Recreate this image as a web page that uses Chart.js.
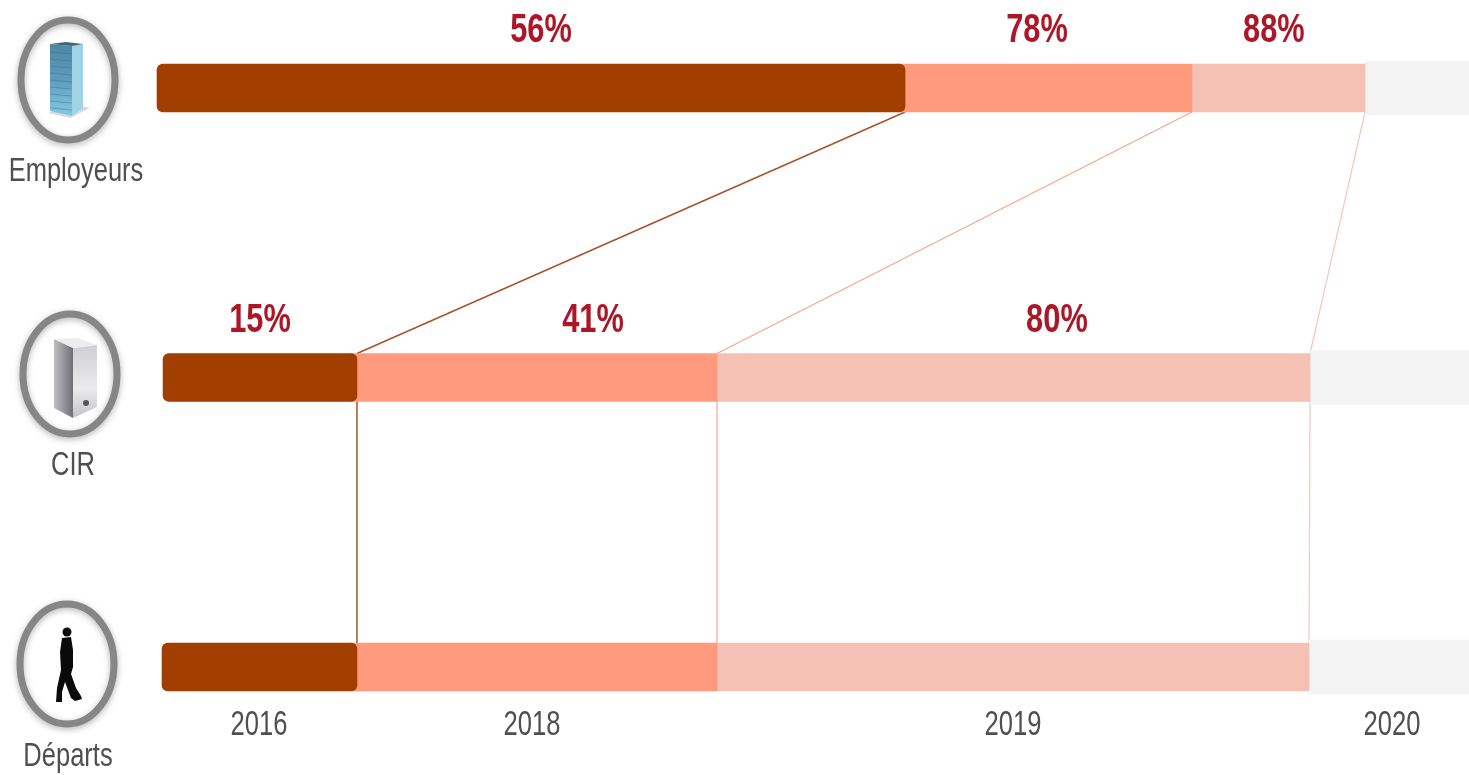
<!DOCTYPE html>
<html>
<head>
<meta charset="utf-8">
<title>Employeurs CIR Départs</title>
<script src="https://cdn.jsdelivr.net/npm/chart.js@4"></script>
<style>
html, body { margin: 0; padding: 0; background: #fff; overflow: hidden; }
#wrap { width: 1469px; height: 775px; }
</style>
</head>
<body>
<div id="wrap"><canvas id="chart"></canvas></div>
<script>
var categories = ['Employeurs', 'CIR', 'Départs'];
var years = ['2016', '2018', '2019', '2020'];
var yearTicks = [17.63, 36.21, 68.96, 94.76];

// lengths of each stretch, in % of the picture width
var lead = [10.69, 11.10, 11.03];
var stage1 = [50.92, 13.20, 13.27];
var stage2 = [19.53, 24.51, 24.51];
var stage3 = [11.78, 40.37, 40.30];
var rest = [7.08, 10.82, 10.89];

var pctEmployeurs = ['56%', '78%', '88%'];
var pctCir = ['15%', '41%', '80%'];

var family = '"Liberation Sans", Arial, sans-serif';
var colDark = '#a23e00', colMid = '#ff9a7c', colLight = '#f6c1b5', colRest = '#f3f3f3';
var overlap = 0.5; // the stretch after the dark one slides under it, so its rounded corners do not show white

// where the percent labels sit along the axis, x in % of width, y in px
var pctPlaces = [
    { row: pctEmployeurs, xs: [36.83, 70.59, 86.72], y: 31 },
    { row: pctCir, xs: [17.70, 40.37, 71.95], y: 321 }
];

var rings = [
    { cx: 68, cy: 80, lx: 76, ly: 172 },
    { cx: 70, cy: 374, lx: 73, ly: 466 },
    { cx: 67, cy: 664, lx: 68, ly: 757 }
];

// the picture uses a condensed face, none is installed so squeeze Liberation Sans
function squeezed(ctx, txt, x, y, font, sx) {
    ctx.save();
    ctx.translate(x, y);
    ctx.scale(sx, 1);
    ctx.font = font;
    ctx.textAlign = 'center';
    ctx.textBaseline = 'middle';
    ctx.fillText(txt, 0, 0);
    ctx.restore();
}

function poly(ctx, pts) {
    ctx.beginPath();
    ctx.moveTo(pts[0][0], pts[0][1]);
    for (var i = 1; i < pts.length; i++) ctx.lineTo(pts[i][0], pts[i][1]);
    ctx.closePath();
}

function drawRing(ctx, r) {
    ctx.save();
    ctx.shadowColor = 'rgba(90,90,90,0.45)';
    ctx.shadowBlur = 6;
    ctx.shadowOffsetY = 2;
    ctx.strokeStyle = '#868686';
    ctx.lineWidth = 7;
    ctx.beginPath();
    ctx.ellipse(r.cx, r.cy, 47, 60, 0, 0, Math.PI * 2);
    ctx.stroke();
    ctx.restore();
}

function drawBuilding(ctx) {
    ctx.fillStyle = '#d5dbe0';
    poly(ctx, [[48, 113], [70, 118], [90, 108], [72, 104]]);
    ctx.fill();
    var g = ctx.createLinearGradient(0, 42, 0, 116);
    g.addColorStop(0, '#4d86a4');
    g.addColorStop(0.5, '#5d9cbc');
    g.addColorStop(1, '#86c8e0');
    ctx.fillStyle = g;
    poly(ctx, [[50, 44], [72, 46], [72, 116], [50, 111]]);
    ctx.fill();
    ctx.fillStyle = '#9fd4e6';
    poly(ctx, [[72, 46], [83, 44], [83, 108], [72, 116]]);
    ctx.fill();
    ctx.fillStyle = '#3f6377';
    poly(ctx, [[50, 44], [66, 42], [83, 44], [72, 46]]);
    ctx.fill();
    ctx.strokeStyle = 'rgba(50,100,135,0.4)';
    ctx.lineWidth = 1;
    for (var i = 0; i < 9; i++) {
        ctx.beginPath();
        ctx.moveTo(50, 52 + i * 7);
        ctx.lineTo(72, 54 + i * 7);
        ctx.stroke();
    }
}

function drawServer(ctx) {
    var g = ctx.createLinearGradient(54, 0, 73, 0);
    g.addColorStop(0, '#bdbdc2');
    g.addColorStop(1, '#6f6f75');
    ctx.fillStyle = g;
    poly(ctx, [[54, 339], [73, 348], [73, 418], [54, 408]]);
    ctx.fill();
    var g2 = ctx.createLinearGradient(0, 345, 0, 418);
    g2.addColorStop(0, '#cfcfd3');
    g2.addColorStop(0.6, '#ebebec');
    g2.addColorStop(1, '#c4c4c8');
    ctx.fillStyle = g2;
    poly(ctx, [[73, 348], [97, 345], [97, 407], [73, 418]]);
    ctx.fill();
    ctx.fillStyle = '#ededee';
    poly(ctx, [[54, 339], [78, 338], [97, 345], [73, 348]]);
    ctx.fill();
    ctx.fillStyle = '#555';
    ctx.beginPath();
    ctx.arc(86, 403, 3, 0, Math.PI * 2);
    ctx.fill();
}

function drawWalker(ctx) {
    ctx.fillStyle = '#0a0a0a';
    ctx.beginPath();
    ctx.arc(67, 632, 4.5, 0, Math.PI * 2);
    ctx.fill();
    poly(ctx, [[62, 638], [71, 637], [73, 650], [73, 667], [71, 674], [76, 688], [81, 696],
        [82, 699], [75, 701], [71, 698], [65, 682], [62, 692], [62, 702], [56, 702], [57, 688],
        [61, 670], [60, 652]]);
    ctx.fill();
}

// rings, row names, year labels, connector lines and percent labels
var decorPlugin = {
    id: 'decor',
    beforeDatasetsDraw: function(chart) {
        var ctx = chart.ctx;
        var styles = [
            { ds: 0, color: '#a5532a', w: 1.5 },
            { ds: 1, color: '#f7a78f', w: 1.2 },
            { ds: 2, color: '#f6c6ba', w: 1.2 }
        ];
        ctx.save();
        styles.forEach(function(s) {
            var bars = chart.getDatasetMeta(s.ds).data;
            ctx.strokeStyle = s.color;
            ctx.lineWidth = s.w;
            for (var i = 0; i < bars.length - 1; i++) {
                var a = bars[i].getProps(['x', 'y', 'height'], true);
                var b = bars[i + 1].getProps(['x', 'y', 'height'], true);
                ctx.beginPath();
                ctx.moveTo(a.x, a.y + a.height / 2);
                ctx.lineTo(b.x, b.y - b.height / 2);
                ctx.stroke();
            }
        });
        ctx.restore();
    },
    afterDraw: function(chart) {
        var ctx = chart.ctx;
        var xs = chart.scales.x;
        ctx.save();
        rings.forEach(function(r, i) {
            drawRing(ctx, r);
            ctx.fillStyle = '#4f4f4f';
            squeezed(ctx, categories[i], r.lx, r.ly, '34px ' + family, 0.75);
        });
        drawBuilding(ctx);
        drawServer(ctx);
        drawWalker(ctx);
        yearTicks.forEach(function(v, i) {
            ctx.fillStyle = '#4f4f4f';
            squeezed(ctx, years[i], xs.getPixelForValue(v), chart.chartArea.bottom + 58, '35px ' + family, 0.73);
        });
        ctx.fillStyle = '#ad1626';
        pctPlaces.forEach(function(p) {
            p.row.forEach(function(txt, i) {
                squeezed(ctx, txt, xs.getPixelForValue(p.xs[i]), p.y, 'bold 40px ' + family, 0.77);
            });
        });
        ctx.restore();
    }
};

// turn the lengths into [from, to] floating bars
var ends = lead.slice();
function makeSet(name, lengths, color, round, thick, slide) {
    var data = lengths.map(function(len, i) {
        var from = ends[i];
        ends[i] = from + len;
        return [from - slide, ends[i]];
    });
    return {
        label: name,
        data: data,
        backgroundColor: color,
        borderWidth: 0,
        borderSkipped: false,
        borderRadius: round,
        barThickness: thick,
        grouped: false,
        clip: false
    };
}

new Chart(document.getElementById('chart'), {
    type: 'bar',
    data: {
        labels: categories,
        datasets: [
            makeSet('2016', stage1, colDark, 6, 48, 0),
            makeSet('2018', stage2, colMid, 0, 48, overlap),
            makeSet('2019', stage3, colLight, 0, 48, 0),
            makeSet('2020', rest, colRest, 0, 54, 0)
        ]
    },
    options: {
        indexAxis: 'y',
        responsive: true,
        maintainAspectRatio: false,
        animation: false,
        layout: { padding: { top: 88, left: 0, right: 0, bottom: 108 } },
        plugins: { legend: { display: false }, tooltip: { enabled: false } },
        scales: {
            x: {
                type: 'linear',
                min: 0,
                max: 100,
                display: false
            },
            y: {
                type: 'category',
                offset: false,
                display: false
            }
        }
    },
    plugins: [decorPlugin]
});
</script>
</body>
</html>
